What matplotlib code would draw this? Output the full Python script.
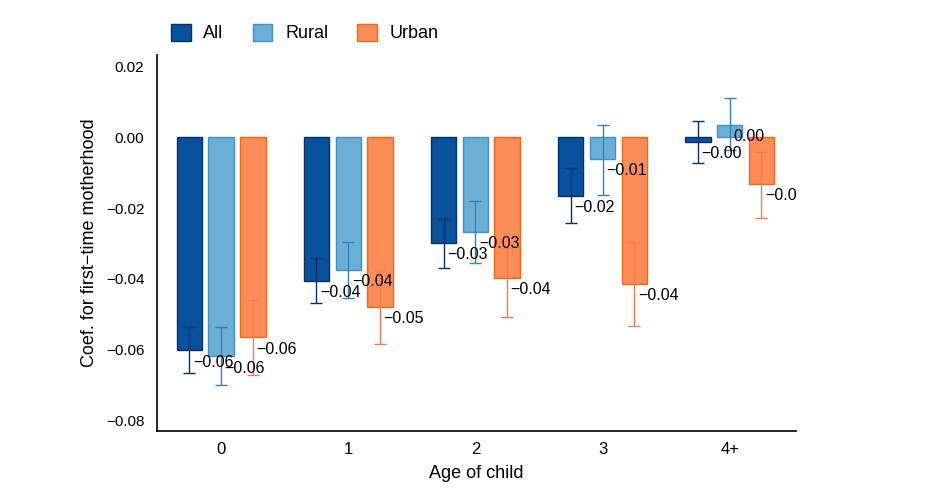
import numpy as np
import matplotlib
matplotlib.use('Agg')
import matplotlib.pyplot as plt
from matplotlib.ticker import FuncFormatter

plt.rcParams['font.family'] = ['Liberation Sans', 'DejaVu Sans']

ages = ['0', '1', '2', '3', '4+']
groups = ['All', 'Rural', 'Urban']

# coefficients and 95% CI bounds
coef_all = [-0.0603, -0.0407, -0.0299, -0.0165, -0.0013]
lo_all = [-0.0668, -0.0468, -0.0369, -0.0242, -0.0074]
hi_all = [-0.0538, -0.0341, -0.0231, -0.0087, 0.0046]

coef_rural = [-0.0620, -0.0376, -0.0268, -0.0062, 0.0034]
lo_rural = [-0.0701, -0.0454, -0.0355, -0.0162, -0.0037]
hi_rural = [-0.0538, -0.0296, -0.0180, 0.0035, 0.0110]

coef_urban = [-0.0566, -0.0479, -0.0397, -0.0414, -0.0133]
lo_urban = [-0.0673, -0.0586, -0.0507, -0.0535, -0.0228]
hi_urban = [-0.0459, -0.0375, -0.0313, -0.0296, -0.0041]

fills = ['#08519c', '#6baed6', '#fc8d59']
edges = ['#08306b', '#4292c6', '#f16913']
errc = ['#08306b', '#3182bd', '#f47a50']

coefs = [coef_all, coef_rural, coef_urban]
los = [lo_all, lo_rural, lo_urban]
his = [hi_all, hi_rural, hi_urban]

fig = plt.figure(figsize=(9.49, 4.91), dpi=100)
ax = fig.add_axes([0.1654, 0.1222, 0.6731, 0.7658])

x = np.arange(len(ages))
width = 0.2
offsets = [-0.25, 0.0, 0.25]

for i in range(3):
    c = np.array(coefs[i])
    yerr = np.vstack([c - np.array(los[i]), np.array(his[i]) - c])
    xs = x + offsets[i]
    ax.bar(xs, c, width, color=fills[i], edgecolor=edges[i], linewidth=1,
           label=groups[i], zorder=2)
    ax.errorbar(xs, c, yerr=yerr, fmt='none', ecolor=errc[i], elinewidth=1,
                capsize=4, capthick=1, zorder=3)
    for xi, v in zip(xs, c):
        ax.annotate(f'{v:.2f}'.replace('-', '\u2212'), (xi, v),
                    xytext=(2.5, -3), textcoords='offset points',
                    ha='left', va='top', fontsize=11.5, color='black',
                    annotation_clip=False, clip_on=True, zorder=4)

ax.set_xlim(-0.505, 4.52)
ax.set_ylim(-0.0831, 0.0233)
ax.set_xticks(x)
ax.set_xticklabels(ages)
ax.set_yticks([0.02, 0.0, -0.02, -0.04, -0.06, -0.08])
ax.yaxis.set_major_formatter(FuncFormatter(lambda v, p: f'{v:.2f}'.replace('-', '\u2212')))
ax.tick_params(length=0)
ax.tick_params(axis='y', pad=9, labelsize=11)
ax.tick_params(axis='x', pad=8, labelsize=12)

for s in ['top', 'right']:
    ax.spines[s].set_visible(False)
for s in ['left', 'bottom']:
    ax.spines[s].set_linewidth(1.2)

ax.set_xlabel('Age of child', fontsize=13, labelpad=6)
ax.set_ylabel('Coef. for first\u2212time motherhood', fontsize=13, labelpad=6)

fig.legend(loc='upper left', bbox_to_anchor=(0.163, 0.985), ncol=3, frameon=False,
           fontsize=13, handlelength=1.1, handleheight=1.1, columnspacing=1.6,
           handletextpad=0.7)

fig.savefig('out.png', dpi=100)
